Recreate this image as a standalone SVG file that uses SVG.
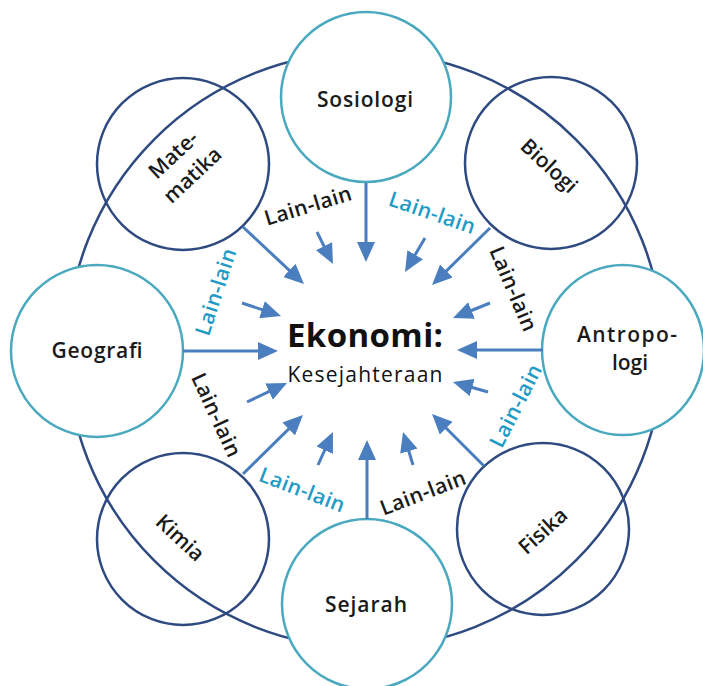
<svg xmlns="http://www.w3.org/2000/svg" width="703" height="686" viewBox="0 0 703 686">
<style>
.ring{fill:none;stroke:#2e4a80;stroke-width:2.5}
.dark{fill:none;stroke:#2e4a80;stroke-width:2.5}
.teal{fill:#ffffff;stroke:#4aa9be;stroke-width:2.5}
.lbl{font-family:"Open Sans","Liberation Sans",sans-serif;font-size:21px;font-weight:600;fill:#1a1a1a;text-anchor:middle}
.ll{font-family:"Open Sans","Liberation Sans",sans-serif;font-size:21px;font-weight:600;text-anchor:middle}
.llk{fill:#1a1a1a}
.llb{fill:#1f9bc6}
.arr{stroke:#4a7ebf;stroke-width:3;fill:none;marker-end:url(#ah)}
</style>
<defs>
<marker id="ah" viewBox="0 0 20 18" refX="8" refY="9" markerWidth="20" markerHeight="18" markerUnits="userSpaceOnUse" orient="auto">
<path d="M0,0 L20,9 L0,18 z" fill="#4a7ebf"/>
</marker>
</defs>
<rect width="703" height="686" fill="#ffffff"/>
<circle class="ring" cx="365" cy="350" r="298"/>

<g id="matematika">
<circle class="dark" cx="183" cy="164" r="86"/>
<g transform="translate(183,165) rotate(-43)">
<text class="lbl" x="0" y="-7">Mate-</text>
<text class="lbl" x="0" y="21">matika</text>
</g>
</g>
<g id="biologi">
<circle class="dark" cx="551" cy="163" r="86"/>
<text class="lbl" transform="translate(549,166) rotate(43)" x="0" y="7">Biologi</text>
</g>
<g id="kimia">
<circle class="dark" cx="183" cy="539" r="86"/>
<text class="lbl" transform="translate(180,538) rotate(43)" x="0" y="7">Kimia</text>
</g>
<g id="fisika">
<circle class="dark" cx="543" cy="529" r="86"/>
<text class="lbl" transform="translate(543,531) rotate(-42)" x="0" y="7">Fisika</text>
</g>

<g id="sosiologi">
<circle class="teal" cx="366" cy="97" r="85"/>
<text class="lbl" x="365" y="107" textLength="96">Sosiologi</text>
</g>
<g id="geografi">
<circle class="teal" cx="97" cy="351" r="86"/>
<text class="lbl" x="97" y="358" textLength="91">Geografi</text>
</g>
<g id="antropologi">
<ellipse class="teal" cx="623" cy="350" rx="81" ry="85"/>
<text class="lbl" x="627" y="342" textLength="100">Antropo-</text>
<text class="lbl" x="630" y="370">logi</text>
</g>
<g id="sejarah">
<circle class="teal" cx="367" cy="604" r="85"/>
<text class="lbl" x="366" y="612" textLength="82">Sejarah</text>
</g>

<g id="ekonomi">
<text x="365" y="347" font-family="'Open Sans','Liberation Sans',sans-serif" font-size="33" font-weight="700" fill="#111111" text-anchor="middle" textLength="156">Ekonomi:</text>
<text x="365" y="382" font-family="'Open Sans','Liberation Sans',sans-serif" font-size="21" font-weight="500" fill="#111111" text-anchor="middle" textLength="155">Kesejahteraan</text>
</g>

<g id="connectors">
<line class="arr" x1="366" y1="183" x2="366" y2="250"/>
<line class="arr" x1="243" y1="227" x2="295.2" y2="275.8"/>
<line class="arr" x1="490" y1="228" x2="440.6" y2="276.6"/>
<line class="arr" x1="183" y1="351" x2="266" y2="351"/>
<line class="arr" x1="543" y1="350" x2="469" y2="350"/>
<line class="arr" x1="243" y1="474" x2="294.4" y2="423.4"/>
<line class="arr" x1="484" y1="466" x2="440.5" y2="422.5"/>
<line class="arr" x1="367" y1="519" x2="367" y2="452"/>
<line class="arr" x1="317" y1="232" x2="327.6" y2="253.3"/>
<line class="arr" x1="425" y1="238" x2="411.1" y2="261.6"/>
<line class="arr" x1="242" y1="303" x2="269.6" y2="312.2"/>
<line class="arr" x1="490" y1="303" x2="464.1" y2="313.5"/>
<line class="arr" x1="247" y1="402" x2="276.2" y2="388.1"/>
<line class="arr" x1="488" y1="392" x2="464.5" y2="385.3"/>
<line class="arr" x1="318" y1="465" x2="328" y2="442.9"/>
<line class="arr" x1="413" y1="465" x2="406.5" y2="443.5"/>
</g>

<g id="labels">
<text class="ll llk" transform="translate(308,206) rotate(-17)" x="0" y="7" textLength="90">Lain-lain</text>
<text class="ll llb" transform="translate(432,213) rotate(19)" x="0" y="7" textLength="90">Lain-lain</text>
<text class="ll llb" transform="translate(216,292) rotate(-72)" x="0" y="7" textLength="90">Lain-lain</text>
<text class="ll llk" transform="translate(513,289) rotate(67)" x="0" y="7" textLength="90">Lain-lain</text>
<text class="ll llk" transform="translate(216,415) rotate(65)" x="0" y="7" textLength="90">Lain-lain</text>
<text class="ll llb" transform="translate(516,406) rotate(-63)" x="0" y="7" textLength="90">Lain-lain</text>
<text class="ll llb" transform="translate(302,490) rotate(21)" x="0" y="7" textLength="90">Lain-lain</text>
<text class="ll llk" transform="translate(423,493) rotate(-21)" x="0" y="7" textLength="90">Lain-lain</text>
</g>
</svg>
